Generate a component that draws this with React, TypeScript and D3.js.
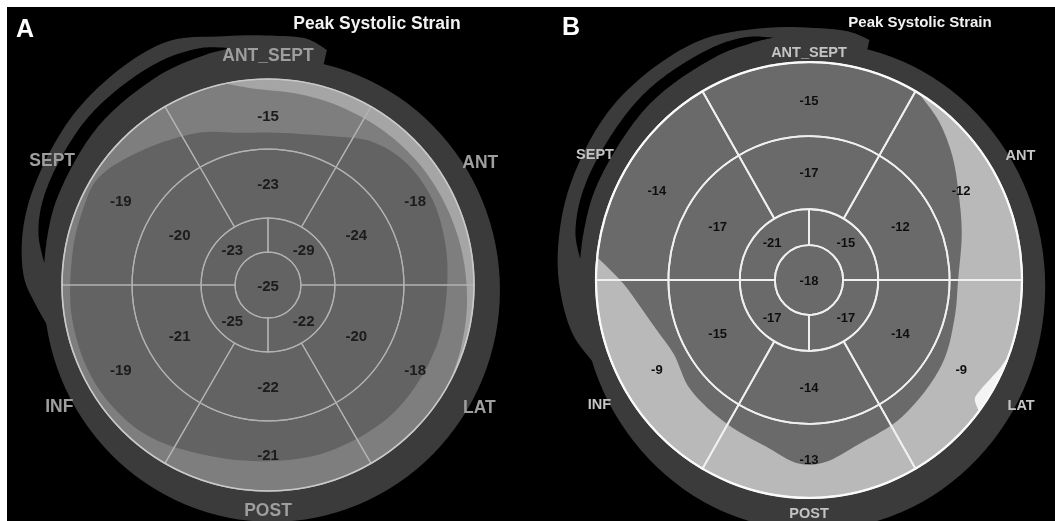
import React from "react";
import * as d3 from "d3";

const W = 1055;
const H = 521;

// walls, clockwise from 12 o'clock
const walls = ["ANT_SEPT", "ANT", "LAT", "POST", "INF", "SEPT"];

// panel A, peak systolic strain (%)
const basalA = [-15, -18, -18, -21, -19, -19];
const midA = [-23, -24, -20, -22, -21, -20];
const apicalA = [-29, -22, -25, -23]; // upper-right, lower-right, lower-left, upper-left
const apexA = -25;

// panel B
const basalB = [-15, -12, -9, -13, -9, -14];
const midB = [-17, -12, -14, -14, -15, -17];
const apicalB = [-15, -17, -17, -21];
const apexB = -18;

// colour map zones: [angle deg clockwise from 12 o'clock, radius / R]
const zoneDarkA: [number, number][] = [
  [0, 0.74], [12, 0.75], [24, 0.79], [36, 0.86], [48, 0.895], [62, 0.9], [76, 0.885],
  [90, 0.87], [110, 0.87], [135, 0.87], [160, 0.86], [180, 0.855], [200, 0.88],
  [220, 0.94], [240, 0.965], [260, 0.965], [280, 0.962], [292, 0.97], [302, 0.975],
  [316, 0.9], [336, 0.81], [350, 0.75],
];
const zoneLightA: [number, number][] = [
  [-12, 1.0], [-4, 0.955], [8, 0.94], [20, 0.935], [35, 0.935], [50, 0.94],
  [65, 0.945], [80, 0.955], [95, 0.97], [108, 0.985], [118, 1.0],
];
const zoneLightB: [number, number][] = [
  [31, 1.0], [40, 0.95], [50, 0.88], [60, 0.81], [73, 0.75], [90, 0.7], [104, 0.705],
  [122, 0.735], [145, 0.765], [163, 0.79], [175, 0.84], [183, 0.845], [195, 0.79],
  [210, 0.765], [228, 0.75], [242, 0.72], [252, 0.75], [261, 0.8], [269, 0.873], [276, 1.0],
];
const zoneWhiteB: [number, number][] = [
  [110, 1.0], [114, 0.985], [118, 0.965], [122, 0.95], [125, 0.95], [127, 1.0],
];

// outer frame of the display: black gap and outer band, widths beyond the frame radius
const crescentA: [number, number][] = [
  [-87, 0], [-80, 0.045], [-70, 0.064], [-50, 0.066], [-30, 0.058], [-18, 0.038], [-11, 0],
];
const bandA: [number, number][] = [
  [-104, 0], [-97, 0.05], [-90, 0.1], [-75, 0.125], [-50, 0.13], [-26, 0.13],
  [-12, 0.064], [0, 0.04], [8, 0.035], [13, 0],
];
const crescentB: [number, number][] = [
  [-86, 0], [-80, 0.038], [-68, 0.052], [-45, 0.052], [-25, 0.045], [-16, 0.03], [-10.5, 0],
];
const bandB: [number, number][] = [
  [-112, 0], [-104, 0.06], [-95, 0.09], [-85, 0.108], [-70, 0.118], [-50, 0.122],
  [-28, 0.102], [-12, 0.052], [0, 0.026], [8, 0.02], [13, 0],
];

const ringEdges = [0, 0.16, 0.325, 0.66, 1];

const deg = (d: number) => (d * Math.PI) / 180;

const panels = [
  {
    id: "A", cx: 268, cy: 285, R: 206, ky: 1.0,
    basal: basalA, mid: midA, apical: apicalA, apex: apexA,
    darkZones: [{ pts: zoneDarkA, fill: "#646464" }],
    rimZones: [{ pts: zoneLightA, fill: "#a5a5a5" }],
    crescent: crescentA, band: bandA,
    frame: { dx: 0.034, dy: -0.0485, r: 1.121 },
    rimEllipse: { dx: 0.019, dy: 0.024, rx: 1.107, ry: 1.126 },
    base: "#7e7e7e", line: "#b2b2b2", lineW: 1.2, rim: "#c9c9c9", rimW: 1.6,
    valSize: 15, valFill: "#1b1b1b",
    wallR: [1.117, 1.19, 1.185, 1.093, 1.17, 1.21], wallSize: 17.5, wallFill: "#9e9e9e",
    title: { x: 377, y: 29, size: 17.5 }, letter: { x: 16, y: 37 },
  },
  {
    id: "B", cx: 809, cy: 280, R: 213, ky: 1.023,
    basal: basalB, mid: midB, apical: apicalB, apex: apexB,
    darkZones: [],
    rimZones: [{ pts: zoneLightB, fill: "#b9b9b9" }, { pts: zoneWhiteB, fill: "#f4f4f4" }],
    crescent: crescentB, band: bandB,
    frame: { dx: 0.034, dy: -0.02, r: 1.11 },
    rimEllipse: { dx: 0.019, dy: 0.03, rx: 1.09, ry: 1.12 },
    base: "#6b6b6b", line: "#f0f0f0", lineW: 1.8, rim: "#fafafa", rimW: 2.2,
    valSize: 13, valFill: "#111",
    wallR: [1.046, 1.146, 1.15, 1.07, 1.136, 1.16], wallSize: 14.5, wallFill: "#c4c4c4",
    title: { x: 920, y: 27, size: 15 }, letter: { x: 562, y: 35 },
  },
];

type Cfg = (typeof panels)[number];

function Bullseye({ p }: { p: Cfg }) {
  const rs = d3.scaleLinear().domain([0, 1]).range([0, p.R]);
  const arc = d3.arc<any>();

  const segs: any[] = [];
  p.basal.forEach((v, i) =>
    segs.push({ v, a0: i * 60 - 30, a1: i * 60 + 30, r0: ringEdges[3], r1: ringEdges[4], rl: 0.825, am: i * 60 })
  );
  p.mid.forEach((v, i) =>
    segs.push({ v, a0: i * 60 - 30, a1: i * 60 + 30, r0: ringEdges[2], r1: ringEdges[3], rl: 0.495, am: i * 60 })
  );
  p.apical.forEach((v, i) =>
    segs.push({ v, a0: i * 90, a1: i * 90 + 90, r0: ringEdges[1], r1: ringEdges[2], rl: 0.245, am: i * 90 + 45 })
  );
  segs.push({ v: p.apex, a0: 0, a1: 360, r0: 0, r1: ringEdges[1], rl: 0, am: 0 });

  const closedZone = d3
    .lineRadial<[number, number]>()
    .angle((d) => deg(d[0]))
    .radius((d) => rs(d[1]))
    .curve(d3.curveCatmullRomClosed.alpha(0.5));

  const rimZone = d3
    .areaRadial<[number, number]>()
    .angle((d) => deg(d[0]))
    .innerRadius((d) => rs(d[1]))
    .outerRadius(rs(1.03))
    .curve(d3.curveCatmullRom.alpha(0.5));

  const bandArea = d3
    .areaRadial<[number, number]>()
    .angle((d) => deg(d[0]))
    .innerRadius(rs(0.9))
    .outerRadius((d) => rs(p.frame.r + d[1]))
    .curve(d3.curveCatmullRom.alpha(0.5));

  const gapArea = d3
    .areaRadial<[number, number]>()
    .angle((d) => deg(d[0]))
    .innerRadius(rs(p.frame.r))
    .outerRadius((d) => rs(p.frame.r + d[1]))
    .curve(d3.curveCatmullRom.alpha(0.5));

  const clipId = `disc-${p.id}`;
  const pos = (a: number, r: number) => [Math.sin(deg(a)) * rs(r), -Math.cos(deg(a)) * rs(r) * p.ky];
  const frameShift = `translate(${p.frame.dx * p.R},${p.frame.dy * p.R})`;

  return (
    <g>
      <defs>
        <clipPath id={clipId}>
          <circle r={p.R} />
        </clipPath>
      </defs>
      <g transform={`translate(${p.cx},${p.cy}) scale(1,${p.ky})`}>
        {/* outer frame */}
        <path d={bandArea(p.band) || ""} transform={frameShift} fill="#3b3b3b" />
        <ellipse
          cx={p.rimEllipse.dx * p.R}
          cy={p.rimEllipse.dy * p.R}
          rx={p.rimEllipse.rx * p.R}
          ry={p.rimEllipse.ry * p.R}
          fill="#3b3b3b"
        />
        <path d={gapArea(p.crescent) || ""} transform={frameShift} fill="#000" />
        {/* colour map */}
        <g clipPath={`url(#${clipId})`}>
          <circle r={p.R} fill={p.base} />
          {p.darkZones.map((z, i) => (
            <path key={"d" + i} d={closedZone(z.pts) || ""} fill={z.fill} />
          ))}
          {p.rimZones.map((z, i) => (
            <path key={"r" + i} d={rimZone(z.pts) || ""} fill={z.fill} />
          ))}
        </g>
        {/* segment outlines */}
        {segs.map((s, i) => (
          <path
            key={i}
            d={
              arc({
                innerRadius: rs(s.r0),
                outerRadius: rs(s.r1),
                startAngle: deg(s.a0),
                endAngle: deg(s.a1),
              }) || ""
            }
            fill="none"
            stroke={p.line}
            strokeWidth={p.lineW}
          />
        ))}
        <circle r={p.R} fill="none" stroke={p.rim} strokeWidth={p.rimW} />
      </g>
      {/* values and wall names */}
      <g transform={`translate(${p.cx},${p.cy})`} fontFamily="Liberation Sans, Arial, sans-serif" fontWeight="bold">
        {segs.map((s, i) => {
          const [x, y] = pos(s.am, s.rl);
          return (
            <text
              key={i}
              x={x}
              y={y}
              textAnchor="middle"
              dominantBaseline="central"
              fontSize={p.valSize}
              fill={p.valFill}
            >
              {s.v}
            </text>
          );
        })}
        {walls.map((w, i) => {
          const [x, y] = pos(i * 60, p.wallR[i]);
          return (
            <text
              key={w}
              x={x}
              y={y}
              textAnchor="middle"
              dominantBaseline="central"
              fontSize={p.wallSize}
              fill={p.wallFill}
            >
              {w}
            </text>
          );
        })}
      </g>
      <text
        x={p.title.x}
        y={p.title.y}
        textAnchor="middle"
        fontFamily="Liberation Sans, Arial, sans-serif"
        fontWeight="bold"
        fontSize={p.title.size}
        fill="#f2f2f2"
      >
        Peak Systolic Strain
      </text>
      <text
        x={p.letter.x}
        y={p.letter.y}
        fontFamily="Liberation Sans, Arial, sans-serif"
        fontWeight="bold"
        fontSize={25}
        fill="#fff"
      >
        {p.id}
      </text>
    </g>
  );
}

export default function App() {
  return (
    <svg width={W} height={H} style={{ position: "absolute", left: 0, top: 0 }}>
      <defs>
        <filter id="soft" x="-5%" y="-5%" width="110%" height="110%">
          <feGaussianBlur stdDeviation="0.55" />
        </filter>
      </defs>
      <rect width={W} height={H} fill="#fff" />
      <rect x={7} y={7} width={W - 7} height={H - 7} fill="#000" />
      <g filter="url(#soft)">
        {panels.map((p) => (
          <Bullseye key={p.id} p={p} />
        ))}
      </g>
    </svg>
  );
}
